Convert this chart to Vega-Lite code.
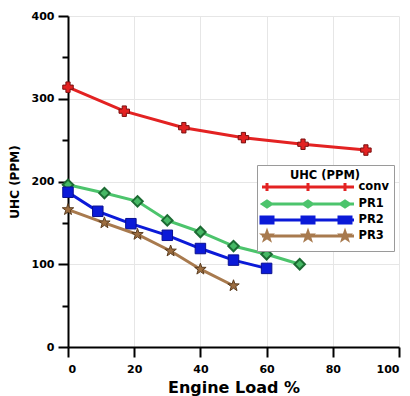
{
  "$schema": "https://vega.github.io/schema/vega-lite/v6.json",
  "width": 331,
  "height": 331,
  "autosize": {"type": "none"},
  "padding": {"left": 68, "top": 16, "right": 11, "bottom": 49},
  "background": "white",
  "config": {
    "view": {"stroke": null},
    "font": "DejaVu Sans"
  },
  "data": {
    "values": [
      {"series": "conv", "load": 0, "uhc": 314},
      {"series": "conv", "load": 17, "uhc": 285},
      {"series": "conv", "load": 35, "uhc": 265},
      {"series": "conv", "load": 53, "uhc": 253},
      {"series": "conv", "load": 71, "uhc": 245},
      {"series": "conv", "load": 90, "uhc": 238},
      {"series": "PR1", "load": 0, "uhc": 196},
      {"series": "PR1", "load": 11, "uhc": 186},
      {"series": "PR1", "load": 21, "uhc": 176},
      {"series": "PR1", "load": 30, "uhc": 153},
      {"series": "PR1", "load": 40, "uhc": 139},
      {"series": "PR1", "load": 50, "uhc": 122},
      {"series": "PR1", "load": 60, "uhc": 112},
      {"series": "PR1", "load": 70, "uhc": 100},
      {"series": "PR2", "load": 0, "uhc": 187},
      {"series": "PR2", "load": 9, "uhc": 164},
      {"series": "PR2", "load": 19, "uhc": 149},
      {"series": "PR2", "load": 30, "uhc": 135},
      {"series": "PR2", "load": 40, "uhc": 119},
      {"series": "PR2", "load": 50, "uhc": 105},
      {"series": "PR2", "load": 60, "uhc": 95},
      {"series": "PR3", "load": 0, "uhc": 166},
      {"series": "PR3", "load": 11, "uhc": 150},
      {"series": "PR3", "load": 21, "uhc": 136},
      {"series": "PR3", "load": 31, "uhc": 116},
      {"series": "PR3", "load": 40, "uhc": 94},
      {"series": "PR3", "load": 50, "uhc": 74}
    ]
  },
  "encoding": {
    "x": {
      "field": "load", "type": "quantitative",
      "scale": {"domain": [0, 100], "nice": false, "zero": false},
      "axis": {
        "title": "Engine Load %",
        "values": [0, 20, 40, 60, 80, 100],
        "grid": true, "gridColor": "#e6e6e6", "gridWidth": 1,
        "domainColor": "black", "domainWidth": 2,
        "tickColor": "black", "tickWidth": 2, "tickSize": 10,
        "labelFont": "DejaVu Sans", "labelFontWeight": "bold", "labelFontSize": 11, "labelColor": "black",
        "labelPadding": 6,
        "titleFont": "DejaVu Sans", "titleFontWeight": "bold", "titleFontSize": 16, "titleColor": "black",
        "titlePadding": 5
      }
    },
    "y": {
      "field": "uhc", "type": "quantitative",
      "scale": {"domain": [0, 400], "nice": false},
      "axis": {
        "title": "UHC (PPM)",
        "values": [0, 50, 100, 150, 200, 250, 300, 350, 400],
        "grid": true, "gridColor": "#e6e6e6", "gridWidth": 1,
        "gridOpacity": {"condition": {"test": "datum.value % 100 === 0", "value": 1}, "value": 0},
        "domainColor": "black", "domainWidth": 2,
        "tickColor": "black", "tickWidth": 2,
        "tickSize": {"condition": {"test": "datum.value % 100 === 0", "value": 10}, "value": 6},
        "labelExpr": "datum.value % 100 === 0 ? datum.label : ''",
        "labelFont": "DejaVu Sans", "labelFontWeight": "bold", "labelFontSize": 11, "labelColor": "black",
        "labelPadding": 4,
        "titleFont": "DejaVu Sans", "titleFontWeight": "bold", "titleFontSize": 12, "titleColor": "black",
        "titlePadding": 10
      }
    }
  },
  "layer": [
    {
      "transform": [{"filter": "datum.series === 'conv'"}],
      "mark": {"type": "line", "strokeWidth": 3, "color": "#e32222",
        "point": {"shape": "cross", "filled": true, "size": 110, "fill": "#e32222", "stroke": "#7a1010", "strokeWidth": 1, "opacity": 1}}
    },
    {
      "transform": [{"filter": "datum.series === 'PR1'"}],
      "mark": {"type": "line", "strokeWidth": 3, "color": "#4cc46c",
        "point": {"shape": "diamond", "filled": true, "size": 110, "fill": "#46b865", "stroke": "#1c6b33", "strokeWidth": 2, "opacity": 1}}
    },
    {
      "transform": [{"filter": "datum.series === 'PR2'"}],
      "mark": {"type": "line", "strokeWidth": 3, "color": "#0b1ad8",
        "point": {"shape": "square", "filled": true, "size": 110, "fill": "#0b1ad8", "stroke": "#0a1090", "strokeWidth": 1, "opacity": 1}}
    },
    {
      "transform": [{"filter": "datum.series === 'PR3'"}],
      "mark": {"type": "line", "strokeWidth": 3, "color": "#a87a4e",
        "point": {"shape": "M0,-1L0.235,-0.324L0.951,-0.309L0.38,0.124L0.588,0.809L0,0.4L-0.588,0.809L-0.38,0.124L-0.951,-0.309L-0.235,-0.324Z", "filled": true, "size": 144, "fill": "#9c6d40", "stroke": "#5a3c1e", "strokeWidth": 1, "opacity": 1}}
    },
    {
      "mark": {"type": "point", "filled": true, "opacity": 0, "strokeWidth": 3},
      "encoding": {
        "color": {
          "field": "series", "type": "nominal",
          "scale": {"domain": ["conv", "PR1", "PR2", "PR3"], "range": ["#e32222", "#4cc46c", "#0b1ad8", "#a87a4e"]},
          "legend": {
            "title": "UHC (PPM)",
            "orient": "none", "legendX": 189, "legendY": 149,
            "symbolSize": 100, "symbolStrokeWidth": 3, "symbolOpacity": 1,
            "symbolOffset": 39.5, "labelOffset": 44,
            "padding": 5, "rowPadding": -6,
            "strokeColor": "#9a9a9a", "fillColor": "white",
            "titleAnchor": "middle", "titlePadding": -1,
            "titleFont": "DejaVu Sans", "titleFontWeight": "bold", "titleFontSize": 11.5, "titleColor": "black",
            "labelFont": "DejaVu Sans", "labelFontWeight": "bold", "labelFontSize": 11.5, "labelColor": "black"
          }
        },
        "stroke": {
          "field": "series", "type": "nominal",
          "scale": {"domain": ["conv", "PR1", "PR2", "PR3"], "range": ["#e32222", "#4cc46c", "#0b1ad8", "#a87a4e"]}
        },
        "shape": {
          "field": "series", "type": "nominal",
          "scale": {"domain": ["conv", "PR1", "PR2", "PR3"], "range": [
            "M-9.2,0H9.2M-8.2,-0.82V0.82M0,-0.82V0.82M7.4,-0.82V0.82",
            "M-9.2,0H9.2M-9.1,0L-8.2,-0.6L-7.3,0L-8.2,0.6ZM-0.9,0L0,-0.6L0.9,0L0,0.6ZM6.5,0L7.4,-0.6L8.3,0L7.4,0.6Z",
            "M-9.2,0H9.2M-9.4,-0.6H-7V0.6H-9.4ZM-1.2,-0.6H1.2V0.6H-1.2ZM6.2,-0.6H8.6V0.6H6.2Z",
            "M-9.2,0H9.2M-8.2,-0.78L-8.017,-0.252L-7.458,-0.241L-7.903,0.097L-7.741,0.631L-8.2,0.312L-8.659,0.631L-8.497,0.097L-8.942,-0.241L-8.383,-0.252ZM0,-0.78L0.183,-0.252L0.742,-0.241L0.297,0.097L0.459,0.631L0,0.312L-0.459,0.631L-0.297,0.097L-0.742,-0.241L-0.183,-0.252ZM7.4,-0.78L7.583,-0.252L8.142,-0.241L7.697,0.097L7.859,0.631L7.4,0.312L6.941,0.631L7.103,0.097L6.658,-0.241L7.217,-0.252Z"
          ]}
        }
      }
    }
  ]
}
